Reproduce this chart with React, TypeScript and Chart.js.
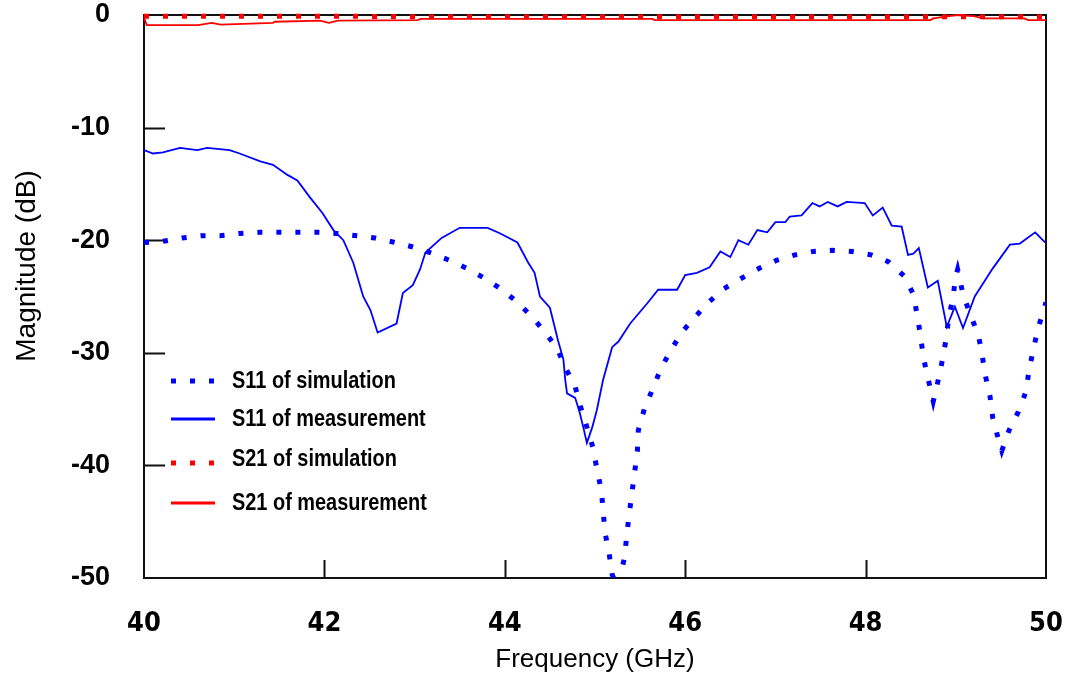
import React, { useEffect, useRef } from "react";
import { Chart, registerables } from "chart.js";

Chart.register(...registerables);

// ---- data ----
const xTickValues = [40, 42, 44, 46, 48, 50];
const yTickValues = [0, -10, -20, -30, -40, -50];

const xTitle = "Frequency (GHz)";
const yTitle = "Magnitude (dB)";

const seriesLabels = [
  "S11 of simulation",
  "S11 of measurement",
  "S21 of simulation",
  "S21 of measurement",
];

const s11SimFreq = [
  40.0, 40.21, 40.42, 40.64, 40.84, 41.06, 41.28, 41.49, 41.71, 41.93,
  42.14, 42.36, 42.56, 42.78, 42.98, 43.17, 43.39, 43.58, 43.78, 43.95,
  44.14, 44.3, 44.45, 44.58, 44.67, 44.78, 44.84, 44.91, 44.98, 45.02,
  45.07, 45.09, 45.11, 45.16, 45.19, 45.25, 45.33, 45.35, 45.38, 45.41,
  45.44, 45.47, 45.48, 45.55, 45.64, 45.73, 45.84, 45.96, 46.1, 46.26,
  46.43, 46.62, 46.82, 47.01, 47.22, 47.42, 47.63, 47.85, 48.06, 48.25,
  48.43, 48.53, 48.57, 48.61, 48.64, 48.69, 48.75, 48.8, 48.85, 48.89,
  48.92, 48.97, 49.0, 49.02, 49.08, 49.16, 49.25, 49.29, 49.33, 49.38,
  49.41, 49.47, 49.51, 49.59, 49.69, 49.78, 49.81, 49.86, 49.91, 50.0,
];
const s11SimDb = [
  -20.2, -20.1, -19.8, -19.6, -19.6, -19.4, -19.3, -19.3, -19.3, -19.3,
  -19.4, -19.6, -19.8, -20.2, -20.6, -21.1, -21.8, -22.5, -23.4, -24.3,
  -25.5, -26.8, -28.2, -29.6, -31.3, -33.0, -34.8, -36.6, -38.5, -40.3,
  -42.2, -44.0, -45.9, -48.0, -49.7, -50.8, -48.1, -46.3, -44.3, -42.4,
  -40.6, -38.7, -36.9, -34.9, -33.2, -31.4, -29.8, -28.2, -26.9, -25.5,
  -24.3, -23.4, -22.5, -21.8, -21.3, -21.0, -20.9, -21.0, -21.3, -21.9,
  -23.2, -24.8, -26.6, -28.5, -30.4, -32.2, -34.3, -32.6, -30.7, -28.9,
  -27.0, -25.0, -23.2, -22.6, -24.8, -26.6, -28.4, -30.1, -32.1, -33.9,
  -35.8, -37.6, -38.7, -36.9, -35.3, -33.4, -31.6, -29.7, -27.9, -25.5,
];

const s11MeasFreq = [
  40.0, 40.1, 40.21, 40.4, 40.59, 40.7, 40.95, 41.06,
  41.29, 41.43, 41.59, 41.7, 41.84, 41.98, 42.1, 42.21, 42.32, 42.43, 42.51, 42.59,
  42.8, 42.87, 42.98, 43.06, 43.12, 43.3, 43.5, 43.81, 43.95, 44.14,
  44.26, 44.33, 44.39, 44.5, 44.59, 44.65, 44.67, 44.69, 44.78, 44.83,
  44.87, 44.91, 44.97, 45.02, 45.09, 45.19, 45.26, 45.39, 45.58, 45.7,
  45.91, 46.0, 46.13, 46.27, 46.39, 46.5, 46.59, 46.7, 46.8, 46.91,
  47.0, 47.11, 47.16, 47.29, 47.41, 47.49, 47.58, 47.69, 47.79, 47.99,
  48.08, 48.19, 48.29, 48.4, 48.47, 48.53, 48.59, 48.69, 48.8, 48.9,
  48.99, 49.08, 49.21, 49.41, 49.6, 49.71, 49.88, 49.99,
];
const s11MeasDb = [
  -12.0, -12.3, -12.2, -11.8, -12.0, -11.8, -12.0, -12.3,
  -13.0, -13.3, -14.2, -14.7, -16.2, -17.6, -19.1, -20.0, -22.0, -25.0, -26.2, -28.2,
  -27.4, -24.7, -24.0, -22.6, -21.1, -19.8, -18.9, -18.9, -19.4, -20.2,
  -22.0, -22.9, -25.0, -26.0, -28.9, -30.6, -32.4, -33.6, -34.0, -35.3,
  -36.6, -38.0, -36.6, -35.1, -32.4, -29.5, -29.0, -27.4, -25.6, -24.4,
  -24.4, -23.1, -22.9, -22.4, -21.0, -21.5, -20.0, -20.4, -19.1, -19.3,
  -18.4, -18.4, -17.9, -17.8, -16.7, -17.0, -16.6, -17.0, -16.6, -16.7,
  -17.8, -17.1, -18.7, -18.8, -21.3, -21.2, -20.7, -24.2, -23.6, -27.7,
  -25.9, -27.8, -25.0, -22.5, -20.4, -20.3, -19.3, -20.2,
];

const s21SimFreq = [40, 41, 42, 43, 44, 45, 46, 47, 48, 49, 50];
const s21SimDb = [-0.1, -0.1, -0.1, -0.15, -0.15, -0.15, -0.15, -0.15, -0.15, -0.15, -0.15];

const s21MeasFreq = [
  40.0, 40.03, 40.6, 40.75, 40.85, 41.43, 41.45, 41.95, 42.05, 42.15, 43.03,
  43.07, 45.64, 45.66, 48.72, 48.75, 49.01, 49.2, 49.3, 49.76, 49.8, 50.0,
];
const s21MeasDb = [
  -0.2, -0.9, -0.9, -0.7, -0.85, -0.7, -0.6, -0.5, -0.7, -0.5, -0.45,
  -0.35, -0.35, -0.45, -0.45, -0.3, 0.0, -0.1, -0.3, -0.3, -0.45, -0.45,
];

const toPoints = (xs: number[], ys: number[]) => xs.map((x, i) => ({ x, y: ys[i] }));

const BLUE = "#0000ff";
const RED = "#ff0000";
const NARROW = "'Liberation Sans Narrow', 'Arial Narrow', 'DejaVu Sans Condensed', 'Liberation Sans', Arial, sans-serif";
const SANS = "'Liberation Sans', Arial, sans-serif";

const framePlugin = {
  id: "frameTicks",
  beforeDatasetsDraw(chart: any) {
    const { ctx, chartArea, scales } = chart;
    const { left, top, right, bottom } = chartArea;
    ctx.save();
    ctx.strokeStyle = "#111";
    ctx.lineWidth = 2;
    ctx.strokeRect(left, top, right - left, bottom - top);
    ctx.beginPath();
    xTickValues.slice(1, -1).forEach((v) => {
      const px = Math.round(scales.x.getPixelForValue(v)) + 0.5;
      ctx.moveTo(px, bottom);
      ctx.lineTo(px, bottom - 18);
    });
    yTickValues.slice(1, -1).forEach((v) => {
      const py = Math.round(scales.y.getPixelForValue(v)) + 0.5;
      ctx.moveTo(left, py);
      ctx.lineTo(left + 21, py);
    });
    ctx.stroke();

    // y-axis title (rotated), placed like the original figure
    ctx.fillStyle = "#000";
    ctx.font = `28px ${SANS}`;
    ctx.textAlign = "center";
    ctx.textBaseline = "middle";
    ctx.translate(27, 266);
    ctx.rotate(-Math.PI / 2);
    ctx.fillText(yTitle, 0, 0);
    ctx.restore();
  },
};

const legendPlugin = {
  id: "insideLegend",
  afterDatasetsDraw(chart: any) {
    const { ctx, chartArea } = chart;
    const rows = [366, 404, 448, 488];
    const x0 = chartArea.left + 27;
    const x1 = chartArea.left + 71;
    ctx.save();
    chart.data.datasets.forEach((ds: any, i: number) => {
      const y = chartArea.top + rows[i];
      ctx.beginPath();
      ctx.strokeStyle = ds.borderColor;
      ctx.lineWidth = ds.borderDash ? ds.borderWidth : 3;
      ctx.setLineDash(ds.borderDash || []);
      ctx.lineCap = "butt";
      ctx.moveTo(x0, y);
      ctx.lineTo(x1 + (ds.borderDash ? 2 : 0), y);
      ctx.stroke();
      ctx.setLineDash([]);
      ctx.fillStyle = "#000";
      ctx.font = `bold 24px ${SANS}`;
      ctx.textBaseline = "middle";
      ctx.textAlign = "left";
      const ty = y - (ds.borderDash && i === 2 ? 4 : 0);
      ctx.save();
      ctx.translate(chartArea.left + 88, ty);
      ctx.scale(0.83, 1);
      ctx.fillText(ds.label, 0, 0);
      ctx.restore();
    });
    ctx.restore();
  },
};

export default function App() {
  const canvasRef = useRef<HTMLCanvasElement | null>(null);

  useEffect(() => {
    if (!canvasRef.current) return;
    const chart = new Chart(canvasRef.current, {
      type: "line",
      data: {
        datasets: [
          {
            label: seriesLabels[0],
            data: toPoints(s11SimFreq, s11SimDb),
            borderColor: BLUE,
            borderWidth: 5,
            borderDash: [5, 14],
            pointRadius: 0,
            tension: 0,
          },
          {
            label: seriesLabels[1],
            data: toPoints(s11MeasFreq, s11MeasDb),
            borderColor: BLUE,
            borderWidth: 1.8,
            pointRadius: 0,
            tension: 0,
          },
          {
            label: seriesLabels[2],
            data: toPoints(s21SimFreq, s21SimDb),
            borderColor: RED,
            borderWidth: 5,
            borderDash: [5, 14],
            pointRadius: 0,
            tension: 0,
            clip: 10,
          },
          {
            label: seriesLabels[3],
            data: toPoints(s21MeasFreq, s21MeasDb),
            borderColor: RED,
            borderWidth: 1.8,
            pointRadius: 0,
            tension: 0,
            clip: 10,
          },
        ],
      },
      options: {
        responsive: false,
        animation: false,
        parsing: false as any,
        layout: { padding: { top: 15, right: 20, left: 0, bottom: 0 } },
        plugins: {
          legend: { display: false },
          tooltip: { enabled: false },
        },
        scales: {
          x: {
            type: "linear",
            min: 40,
            max: 50,
            afterFit: (scale: any) => {
              scale.height = 101;
              scale.paddingLeft = 0;
              scale.paddingRight = 0;
            },
            afterBuildTicks: (scale: any) => {
              scale.ticks = xTickValues.map((v) => ({ value: v }));
            },
            grid: { display: false, drawTicks: false },
            border: { display: false },
            ticks: {
              color: "#000",
              padding: 30,
              maxRotation: 0,
              font: { family: NARROW, size: 27, weight: "bold" },
            },
            title: {
              display: true,
              text: xTitle,
              color: "#000",
              font: { family: SANS, size: 26 },
              padding: { top: 0, bottom: 4 },
            },
          },
          y: {
            type: "linear",
            min: -50,
            max: 0,
            afterFit: (scale: any) => {
              scale.width = 144;
              scale.paddingTop = 0;
              scale.paddingBottom = 0;
            },
            afterBuildTicks: (scale: any) => {
              scale.ticks = yTickValues.map((v) => ({ value: v }));
            },
            grid: { display: false, drawTicks: false },
            border: { display: false },
            ticks: {
              color: "#000",
              padding: 34,
              font: { family: SANS, size: 27, weight: "bold" },
            },
            title: { display: false },
          },
        },
      },
      plugins: [framePlugin, legendPlugin],
    } as any);
    return () => chart.destroy();
  }, []);

  return (
    <div style={{ position: "absolute", left: 0, top: 0, width: 1066, height: 679, background: "#fff" }}>
      <canvas ref={canvasRef} width={1066} height={679} />
    </div>
  );
}
